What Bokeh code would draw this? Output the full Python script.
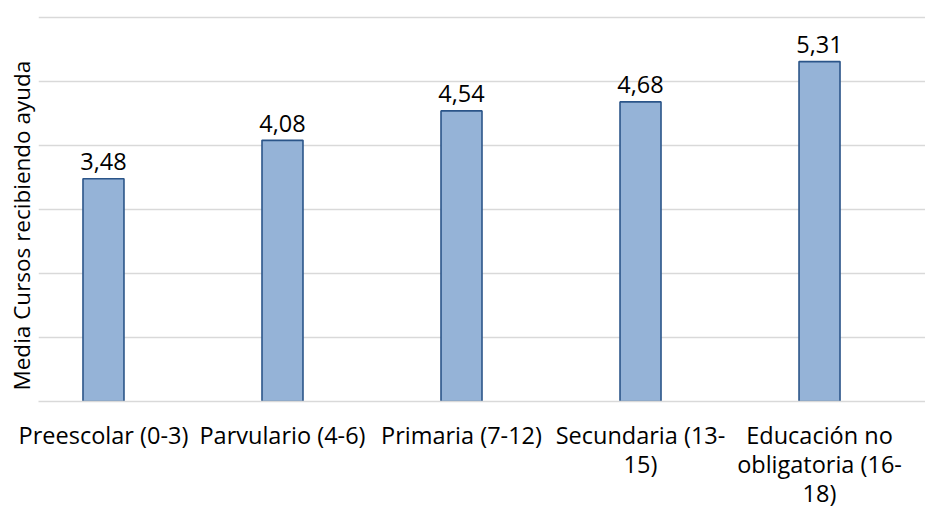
from bokeh.plotting import figure
from bokeh.models import FixedTicker, ColumnDataSource, Title
from bokeh.core.properties import value
from bokeh.embed import file_html
from bokeh.resources import INLINE

categories = ["Preescolar (0-3)", "Parvulario (4-6)", "Primaria (7-12)",
              "Secundaria (13-\n15)", "Educación no\nobligatoria (16-\n18)"]
values = [3.48, 4.08, 4.54, 4.68, 5.31]
y_ticks = [0, 1, 2, 3, 4, 5, 6]
y_label = "Media Cursos recibiendo ayuda"

FONT = "Open Sans"
FS = "23.5px"
xs = list(range(len(categories)))
labels = [f"{v:.2f}".replace(".", ",") for v in values]
src = ColumnDataSource(dict(x=xs, top=values, label=labels))

p = figure(frame_width=887, frame_height=386, output_backend="svg", toolbar_location=None,
           x_range=(-0.363, 4.592), y_range=(0, 6.03),
           min_border_top=15, min_border_right=0, min_border_left=38, min_border_bottom=0)
p.outline_line_color = None
p.background_fill_color = "white"

p.vbar(x="x", top="top", width=0.229, bottom=0, source=src,
       fill_color="#95B3D7", line_color="#2B5589", line_width=1.6)

p.text(x="x", y="top", text="label", source=src, text_align="center",
       text_baseline="alphabetic", y_offset=-17,
       text_font=value(FONT), text_font_size=FS, text_color="#000000")

# grid
p.ygrid.ticker = FixedTicker(ticks=y_ticks)
p.ygrid.grid_line_color = "#D9D9D9"
p.ygrid.grid_line_width = 1.3
p.xgrid.grid_line_color = None

# y axis hidden; title on the left
p.yaxis.visible = False
p.add_layout(Title(text=y_label, align="left", offset=11, standoff=4,
                   text_font=FONT, text_font_size="22.5px", text_font_style="normal",
                   text_color="#000000"), "left")

# x axis
p.xaxis.ticker = FixedTicker(ticks=xs)
p.xaxis.major_label_overrides = {i: c for i, c in zip(xs, categories)}
p.xaxis.major_tick_line_color = None
p.xaxis.minor_tick_line_color = None
p.xaxis.major_tick_out = 0
p.xaxis.major_tick_in = 0
p.xaxis.axis_line_color = "#D9D9D9"
p.xaxis.axis_line_width = 1.3
p.xaxis.major_label_text_font = FONT
p.xaxis.major_label_text_font_size = FS
p.xaxis.major_label_text_color = "#000000"
p.xaxis.major_label_text_line_height = 0.92
p.xaxis.major_label_standoff = 17

open("out.html", "w").write(file_html(p, INLINE))
